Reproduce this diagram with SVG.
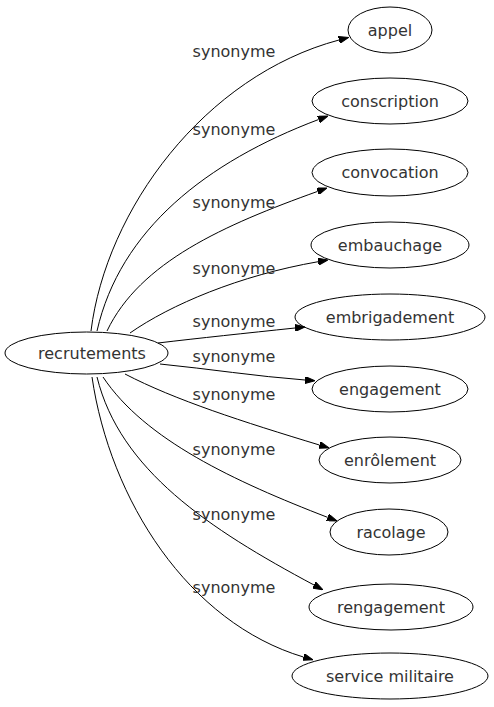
<svg xmlns="http://www.w3.org/2000/svg" width="494" height="707" viewBox="0 0 494 707">
<style>
.n ellipse{fill:none;stroke:#000;stroke-width:1}
text{font-family:"DejaVu Sans",sans-serif;font-size:16px;fill:#333}
.n text{text-anchor:middle}
.e path{fill:none;stroke:#000;stroke-width:1;marker-end:url(#ah)}
.e text{text-anchor:middle}
</style>
<defs>
<marker id="ah" viewBox="0 0 10 7" refX="0" refY="3.5" markerWidth="10" markerHeight="7" markerUnits="userSpaceOnUse" orient="auto">
<path d="M0,0 L10,3.5 L0,7 z" fill="#000" stroke="#000"/>
</marker>
</defs>
<rect width="494" height="707" fill="#fff"/>
<g class="e" id="edges">
<path d="M91,331 C106,210 204,76 339,40"/>
<text x="234" y="57">synonyme</text>
<path d="M97,331 C120,230 206,162 318.6,119.5"/>
<text x="234" y="135">synonyme</text>
<path d="M107,331 C140,262 224,225 317.6,191.4"/>
<text x="234" y="208">synonyme</text>
<path d="M130,333 C170,305 239.4,275.3 318.2,261.7"/>
<text x="234" y="274">synonyme</text>
<path d="M158,343 C200,338 245,333.3 295,328"/>
<text x="234" y="327">synonyme</text>
<path d="M160,364 C210,369 255,376.2 305,380"/>
<text x="234" y="362">synonyme</text>
<path d="M125,374 C175,400 242.8,421.8 319.4,445"/>
<text x="234" y="400">synonyme</text>
<path d="M103,377 C145,440 234.7,481.4 327.7,517.4"/>
<text x="234" y="455">synonyme</text>
<path d="M97,377 C120,470 208.4,528.6 314,585"/>
<text x="234" y="520">synonyme</text>
<path d="M92,377 C110,500 188.4,622.6 303.4,657"/>
<text x="234" y="593">synonyme</text>
</g>
<g class="n" id="recrutements"><ellipse cx="86.5" cy="353" rx="81.5" ry="21"/><text x="92" y="359">recrutements</text></g>
<g class="n" id="appel"><ellipse cx="390" cy="30" rx="42" ry="23"/><text x="390" y="36">appel</text></g>
<g class="n" id="conscription"><ellipse cx="390" cy="101" rx="78" ry="23"/><text x="390" y="107">conscription</text></g>
<g class="n" id="convocation"><ellipse cx="390" cy="172.5" rx="78" ry="23.5"/><text x="390" y="178">convocation</text></g>
<g class="n" id="embauchage"><ellipse cx="390" cy="245" rx="79" ry="23"/><text x="390" y="251">embauchage</text></g>
<g class="n" id="embrigadement"><ellipse cx="390" cy="317" rx="95" ry="23"/><text x="390" y="323">embrigadement</text></g>
<g class="n" id="engagement"><ellipse cx="390" cy="389" rx="78" ry="23"/><text x="390" y="395">engagement</text></g>
<g class="n" id="enrolement"><ellipse cx="390" cy="460" rx="71" ry="23"/><text x="390" y="466">enrôlement</text></g>
<g class="n" id="racolage"><ellipse cx="389" cy="532" rx="59" ry="23"/><text x="391" y="538">racolage</text></g>
<g class="n" id="rengagement"><ellipse cx="391" cy="607" rx="82" ry="23"/><text x="391" y="613">rengagement</text></g>
<g class="n" id="service-militaire"><ellipse cx="390" cy="676" rx="98" ry="23"/><text x="390" y="682">service militaire</text></g>
</svg>
